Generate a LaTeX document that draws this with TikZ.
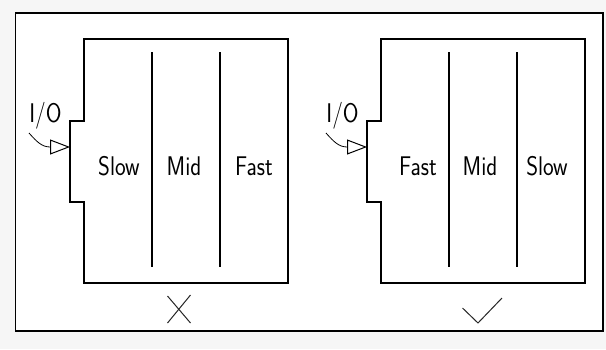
\documentclass[tikz,border=0pt]{standalone}
\usetikzlibrary{arrows.meta}
\newcommand\narrowtxt[1]{\scalebox{0.84}[1]{#1}}
\tikzset{
  wall/.style={line width=1.6pt, line join=miter},
  divider/.style={line width=1.3pt},
  lbl/.style={font=\fontsize{27}{27}\sffamily, inner sep=0pt, anchor=base},
  ioarrow/.style={line width=0.8pt, -{Triangle[open,length=20pt,width=15pt,line width=1pt]}},
  verdict/.style={line width=1pt, gray!30!black}
}
\begin{document}
\begin{tikzpicture}[x=1pt,y=-1pt]
\fill[gray!7] (0,0) rectangle (606,349);
\useasboundingbox (0,0) rectangle (606,349);
\draw[wall, fill=white] (15.5,13) rectangle (603,331);
% left box
\draw[wall] (84,39) -- (288,39) -- (288,283) -- (84,283) -- (84,202) -- (70,202) -- (70,121) -- (84,121) -- cycle;
\draw[divider] (152,52) -- (152,267);
\draw[divider] (220,52) -- (220,267);
\node[lbl] (ls) at (119,175) {\narrowtxt{Slow}};
\node[lbl] (lm) at (184,175) {\narrowtxt{Mid}};
\node[lbl] (lf) at (254,175) {\narrowtxt{Fast}};
\node[lbl] (lio) at (45.5,122) {\narrowtxt{I/O}};
\coordinate (la) at (29,133);
\coordinate (lt) at (70,147);
\draw[ioarrow] (la) .. controls (37,142) and (42,147) .. (lt);
% right box
\draw[wall] (381,39) -- (585,39) -- (585,283) -- (381,283) -- (381,202) -- (367,202) -- (367,121) -- (381,121) -- cycle;
\draw[divider] (449,52) -- (449,267);
\draw[divider] (517,52) -- (517,267);
\node[lbl] (rf) at (418,175) {\narrowtxt{Fast}};
\node[lbl] (rm) at (480,175) {\narrowtxt{Mid}};
\node[lbl] (rs) at (547,175) {\narrowtxt{Slow}};
\node[lbl] (rio) at (342.5,122) {\narrowtxt{I/O}};
\coordinate (ra) at (326,133);
\coordinate (rt) at (367,147);
\draw[ioarrow] (ra) .. controls (334,142) and (339,147) .. (rt);
% marks
\draw[verdict] (167.5,296) -- (190.5,323);
\draw[verdict] (190.5,295) -- (167.5,323);
\draw[verdict] (462.5,308) -- (478,323) -- (502,298);
\end{tikzpicture}
\end{document}
